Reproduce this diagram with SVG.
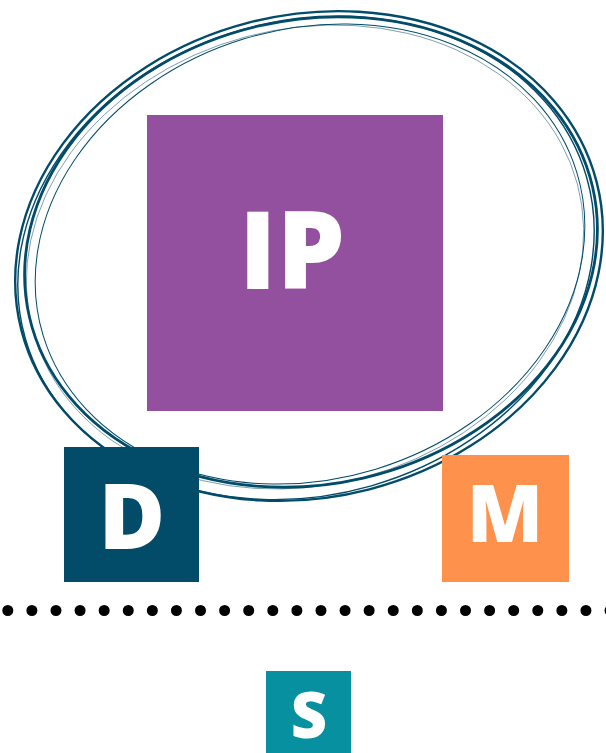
<svg xmlns="http://www.w3.org/2000/svg" width="606" height="753" viewBox="0 0 606 753">
  <style>
    .box-label { font-family: "Open Sans", "Liberation Sans", sans-serif; font-weight: 800; fill: #ffffff; text-anchor: middle; }
    .loop { fill: none; stroke: #024b69; }
  </style>
  <rect width="606" height="753" fill="#ffffff"/>

  <!-- hand-drawn ring around IP -->
  <g id="ring">
    <ellipse class="loop" cx="309" cy="256" rx="297" ry="241" transform="rotate(-14.5 309 256)" stroke-width="2.4"/>
    <ellipse class="loop" cx="306" cy="258" rx="292" ry="237" transform="rotate(-16 306 258)" stroke-width="1.4"/>
    <ellipse class="loop" cx="311" cy="252" rx="289" ry="232" transform="rotate(-13 311 252)" stroke-width="2.8"/>
    <ellipse class="loop" cx="305" cy="257" rx="282" ry="228" transform="rotate(-15 305 257)" stroke-width="0.8" opacity="0.6"/>
    <ellipse class="loop" cx="310" cy="254" rx="279" ry="225" transform="rotate(-17 310 254)" stroke-width="1"/>
  </g>

  <g id="node-ip">
    <rect x="147" y="115" width="296" height="296" fill="#93509e"/>
    <text class="box-label" x="292" y="289" font-size="108">IP</text>
  </g>

  <g id="node-d">
    <rect x="64" y="447" width="135" height="135" fill="#024b69"/>
    <text class="box-label" x="132" y="549" font-size="91">D</text>
  </g>

  <g id="node-m">
    <rect x="442" y="455" width="127" height="127" fill="#fe914c"/>
    <text class="box-label" x="505" y="542" font-size="79">M</text>
  </g>

  <!-- dotted divider -->
  <g id="connectors">
    <line x1="7.8" y1="610.5" x2="620" y2="610.5" stroke="#000000" stroke-width="11" stroke-linecap="round" stroke-dasharray="0 24.09"/>
  </g>

  <g id="node-s">
    <rect x="266" y="671" width="85" height="82" fill="#07909f"/>
    <text class="box-label" x="309" y="738" font-size="63">S</text>
  </g>
</svg>
